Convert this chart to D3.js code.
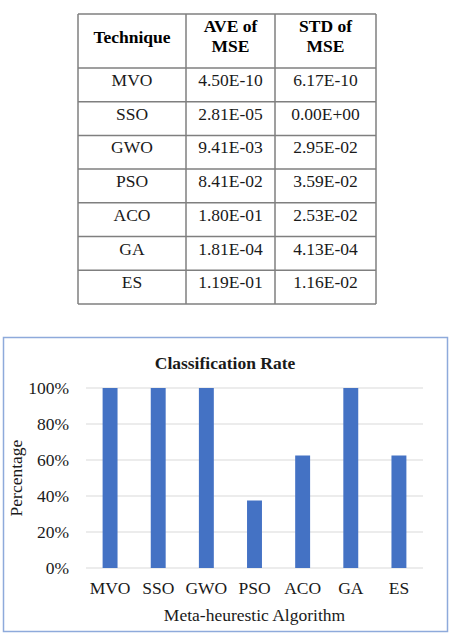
<!DOCTYPE html>
<html>
<head>
<meta charset="utf-8">
<script src="https://cdn.jsdelivr.net/npm/d3@7"></script>
<style>
  html, body { margin: 0; padding: 0; background: #fff; }
  svg text { font-family: "Liberation Serif", "Times New Roman", serif; }
</style>
</head>
<body>
<svg id="fig" width="451" height="635"></svg>
<script>
// table data
var tableHeader = [["Technique"], ["AVE of", "MSE"], ["STD of", "MSE"]];
var techniques = ["MVO", "SSO", "GWO", "PSO", "ACO", "GA", "ES"];
var aveMSE = ["4.50E-10", "2.81E-05", "9.41E-03", "8.41E-02", "1.80E-01", "1.81E-04", "1.19E-01"];
var stdMSE = ["6.17E-10", "0.00E+00", "2.95E-02", "3.59E-02", "2.53E-02", "4.13E-04", "1.16E-02"];

// chart data
var algorithms = ["MVO", "SSO", "GWO", "PSO", "ACO", "GA", "ES"];
var classRate = [1.0, 1.0, 1.0, 0.375, 0.625, 1.0, 0.625];
var yTicks = [0, 0.2, 0.4, 0.6, 0.8, 1.0];

var FONT = "'Liberation Serif', 'Times New Roman', serif";
var svg = d3.select("#fig");

// TABLE
var tbl = {left: 78, right: 376, top: 14, headH: 54, rowH: 33.7};
var colEdges = [78, 186, 275, 376];
var nRows = techniques.length;

var rowY = d3.scaleLinear()
	.domain([0, nRows])
	.range([tbl.top + tbl.headH, tbl.top + tbl.headH + nRows * tbl.rowH]);

var t = svg.append("g").attr("class", "table");

// horizontal lines
var hLines = [tbl.top].concat(d3.range(nRows + 1).map(i => rowY(i)));
t.selectAll("line.h")
	.data(hLines)
	.enter()
	.append("line")
	.attr("x1", tbl.left).attr("x2", tbl.right)
	.attr("y1", d => d).attr("y2", d => d)
	.attr("stroke", "#7f7f7f")
	.attr("stroke-width", 1.5);

// vertical lines
t.selectAll("line.v")
	.data(colEdges)
	.enter()
	.append("line")
	.attr("x1", d => d).attr("x2", d => d)
	.attr("y1", tbl.top).attr("y2", rowY(nRows))
	.attr("stroke", "#7f7f7f")
	.attr("stroke-width", 1.5);

var colCenter = i => (colEdges[i] + colEdges[i + 1]) / 2;

// header text
tableHeader.forEach((lines, i) => {
	var txt = t.append("text")
		.attr("text-anchor", "middle")
		.style("font-family", FONT)
		.style("font-weight", "bold")
		.style("font-size", "17.5px")
		.attr("fill", "#000");
	if (lines.length === 1) {
		txt.append("tspan").attr("x", colCenter(i)).attr("y", 43).text(lines[0]);
	} else {
		txt.append("tspan").attr("x", colCenter(i)).attr("y", 32).text(lines[0]);
		txt.append("tspan").attr("x", colCenter(i)).attr("y", 52).text(lines[1]);
	}
});

// body text
var cols = [techniques, aveMSE, stdMSE];
cols.forEach((col, ci) => {
	t.selectAll("text.c" + ci)
		.data(col)
		.enter()
		.append("text")
		.attr("class", "c" + ci)
		.attr("x", colCenter(ci))
		.attr("y", (d, i) => rowY(i) + 18)
		.attr("text-anchor", "middle")
		.style("font-family", FONT)
		.style("font-size", "17.5px")
		.attr("fill", "#1a1a1a")
		.text(d => d);
});

// CHART
svg.append("rect")
	.attr("x", 3.5).attr("y", 337.5)
	.attr("width", 444).attr("height", 294)
	.attr("fill", "#fff")
	.attr("stroke", "#8eaadb")
	.attr("stroke-width", 1.5);

var margin = {left: 86, right: 28, top: 388, bottom: 67};
var plotW = 451 - margin.left - margin.right;
var plotH = 635 - margin.top - margin.bottom;

var g = svg.append("g")
	.attr("transform", "translate(" + margin.left + "," + margin.top + ")");

var xScale = d3.scaleBand()
	.domain(algorithms)
	.range([0, plotW])
	.paddingInner(0.69)
	.paddingOuter(0.345);

var yScale = d3.scaleLinear()
	.domain([0, 1])
	.range([plotH, 0]);

// gridlines
g.selectAll("line.grid")
	.data(yTicks)
	.enter()
	.append("line")
	.attr("x1", 0).attr("x2", plotW)
	.attr("y1", d => yScale(d)).attr("y2", d => yScale(d))
	.attr("stroke", "#d9d9d9")
	.attr("stroke-width", 1);

// bars
g.selectAll("rect.bar")
	.data(algorithms)
	.enter()
	.append("rect")
	.attr("x", d => xScale(d))
	.attr("y", (d, i) => yScale(classRate[i]))
	.attr("width", xScale.bandwidth())
	.attr("height", (d, i) => plotH - yScale(classRate[i]))
	.attr("fill", "#4472c4");

// y axis
var yAxis = d3.axisLeft(yScale)
	.tickValues(yTicks)
	.tickFormat(d3.format(".0%"))
	.tickSize(0)
	.tickPadding(17);

var ya = g.append("g").call(yAxis);
ya.select(".domain").remove();
ya.selectAll("text")
	.style("font-size", "17.5px")
	.style("font-family", FONT)
	.attr("fill", "#1a1a1a");

// x axis
var xAxis = d3.axisBottom(xScale)
	.tickSize(0)
	.tickPadding(14);

var xa = g.append("g")
	.attr("transform", "translate(0," + plotH + ")")
	.call(xAxis);
xa.select(".domain").remove();
xa.selectAll("text")
	.style("font-size", "17.5px")
	.style("font-family", FONT)
	.attr("fill", "#1a1a1a");

// titles
svg.append("text")
	.attr("x", 225).attr("y", 369)
	.attr("text-anchor", "middle")
	.style("font-family", FONT)
	.style("font-weight", "bold")
	.style("font-size", "17.5px")
	.attr("fill", "#1a1a1a")
	.text("Classification Rate");

svg.append("text")
	.attr("x", margin.left + plotW / 2).attr("y", 621)
	.attr("text-anchor", "middle")
	.style("font-family", FONT)
	.style("font-size", "17.5px")
	.attr("fill", "#1a1a1a")
	.text("Meta-heurestic Algorithm");

svg.append("text")
	.attr("transform", "translate(22," + (margin.top + plotH / 2) + ") rotate(-90)")
	.attr("text-anchor", "middle")
	.style("font-family", FONT)
	.style("font-size", "17.5px")
	.attr("fill", "#1a1a1a")
	.text("Percentage");
</script>
</body>
</html>
